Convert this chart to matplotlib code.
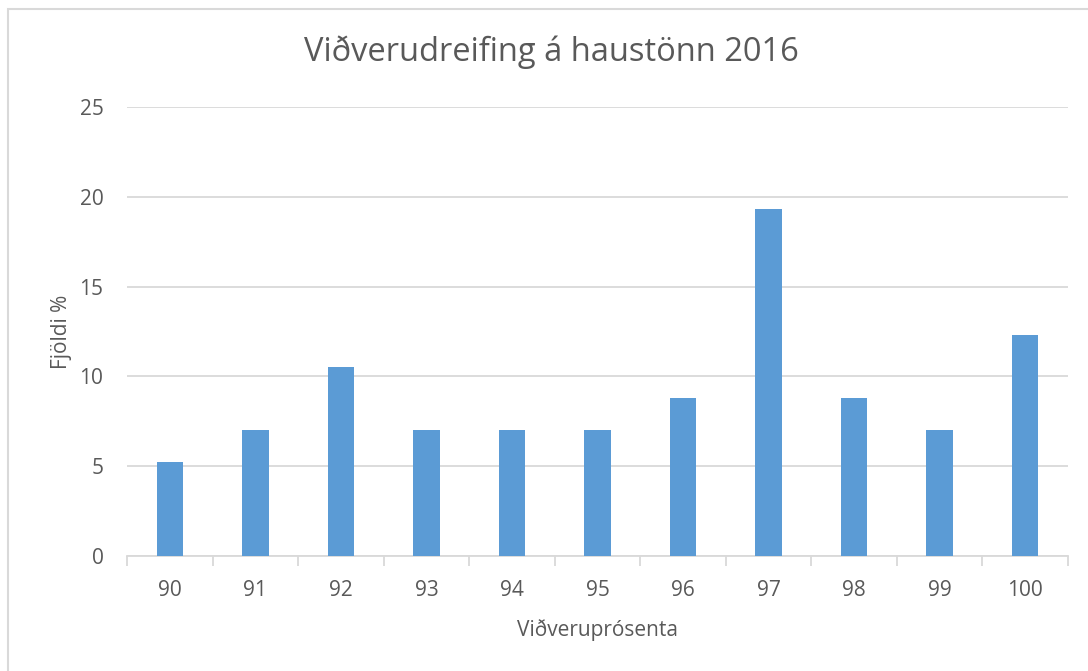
import matplotlib.pyplot as plt
from matplotlib.patches import Rectangle

plt.rcParams['font.family'] = ['Open Sans', 'DejaVu Sans']

# Datos
categorias = ['90', '91', '92', '93', '94', '95', '96', '97', '98', '99', '100']
valores = [5.26, 7.02, 10.53, 7.02, 7.02, 7.02, 8.77, 19.30, 8.77, 7.02, 12.28]
ticks_y = [0, 5, 10, 15, 20, 25]

texto = '#595959'
gris = '#D9D9D9'

fig = plt.figure(figsize=(10.88, 6.71), dpi=100)
ax = fig.add_axes([127 / 1088, (671 - 556) / 671, (1068 - 127) / 1088, (556 - 107) / 671])

# Borde del area del grafico (recortado a la derecha y abajo)
fig.patches.append(Rectangle((7.5 / 1088, -0.1), 1.2, (671 - 8.5) / 671 + 0.1,
                             transform=fig.transFigure, fill=False,
                             edgecolor=gris, linewidth=1.5))

x = range(len(categorias))
ax.bar(x, valores, width=0.31, color='#5B9BD5', zorder=3)

ax.set_xlim(-0.5, len(categorias) - 0.5)
ax.set_ylim(0, 25)
ax.set_yticks(ticks_y)
ax.yaxis.grid(True, color=gris, linewidth=1.3)
ax.set_axisbelow(True)

ax.set_xticks(list(x))
ax.set_xticklabels(categorias)
ax.set_xticks([i - 0.5 for i in range(len(categorias) + 1)], minor=True)
ax.tick_params(axis='x', which='major', length=0, pad=17, labelsize=15, labelcolor=texto)
ax.tick_params(axis='x', which='minor', length=7, width=1.3, color=gris)
ax.tick_params(axis='y', length=0, pad=17, labelsize=15, labelcolor=texto)

for lado in ['top', 'right', 'left']:
    ax.spines[lado].set_visible(False)
ax.spines['bottom'].set_color(gris)
ax.spines['bottom'].set_linewidth(1.3)

# Titulo centrado en el area del grafico, no en los ejes
fig.text(551 / 1088, 1 - 52 / 671, 'Viðverudreifing á haustönn 2016', fontsize=23.5,
         color=texto, ha='center', va='center')
ax.set_xlabel('Viðveruprósenta', fontsize=15, color=texto, labelpad=13)
ax.set_ylabel('Fjöldi %', fontsize=15, color=texto, labelpad=5)

fig.savefig('out.png', dpi=100)
